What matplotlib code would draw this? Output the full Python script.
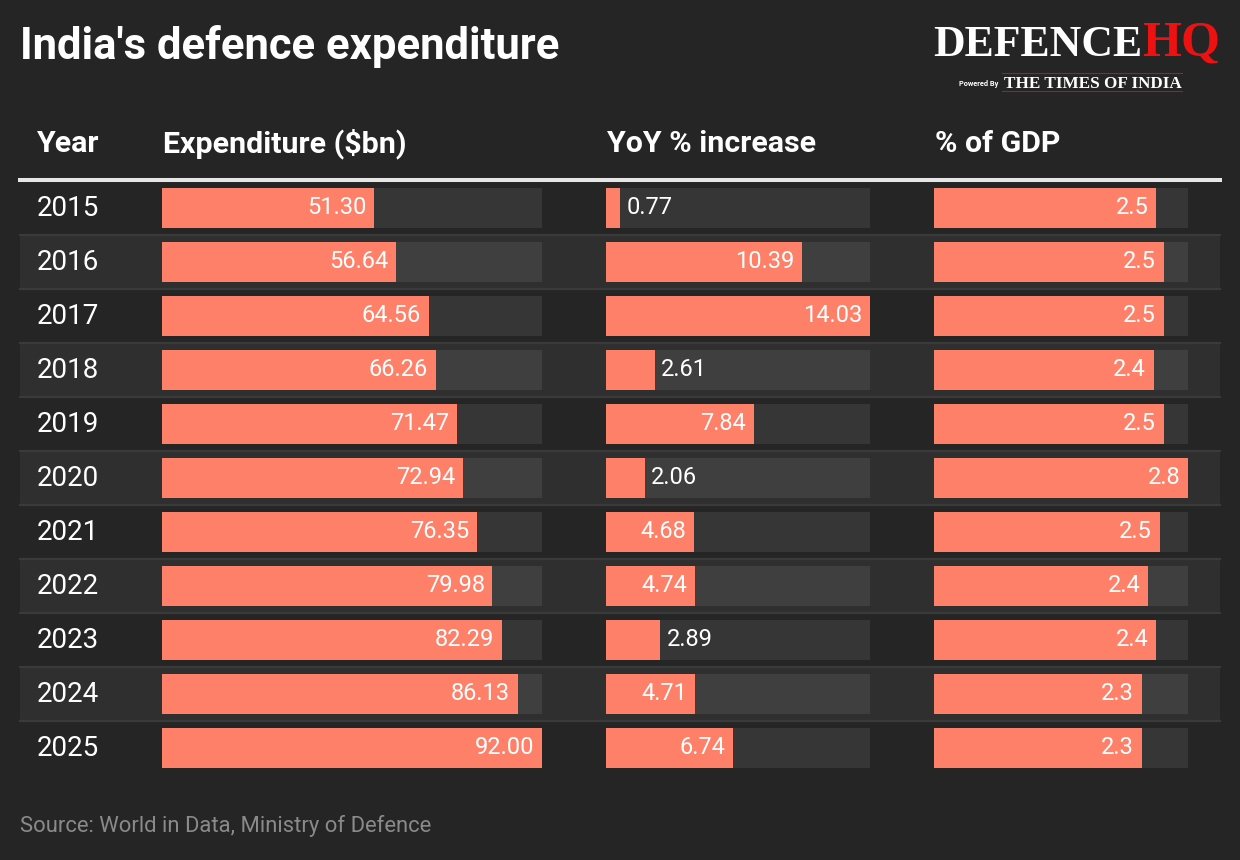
import matplotlib
matplotlib.use("Agg")
from matplotlib import pyplot as plt

years = [2015, 2016, 2017, 2018, 2019, 2020, 2021, 2022, 2023, 2024, 2025]
expenditure = [51.30, 56.64, 64.56, 66.26, 71.47, 72.94, 76.35, 79.98, 82.29, 86.13, 92.00]
yoy_increase = [0.77, 10.39, 14.03, 2.61, 7.84, 2.06, 4.68, 4.74, 2.89, 4.71, 6.74]
gdp_share = [2.45, 2.53, 2.53, 2.42, 2.53, 2.80, 2.49, 2.36, 2.45, 2.29, 2.29]
gdp_labels = ["2.5", "2.5", "2.5", "2.4", "2.5", "2.8", "2.5", "2.4", "2.4", "2.3", "2.3"]
headers = ["Year", "Expenditure ($bn)", "YoY % increase", "% of GDP"]

BG = "#252525"
BAND = "#2f2f2f"
SEP = "#3a3a3a"
BAR = "#fe8068"
W, H = 1240, 860
plt.rcParams["font.family"] = ["Roboto", "DejaVu Sans"]

fig = plt.figure(figsize=(W / 100, H / 100), dpi=100, facecolor=BG)
bg = fig.add_axes([0, 0, 1, 1])
bg.set_xlim(0, W)
bg.set_ylim(H, 0)
bg.axis("off")

row_top, row_h = 181, 54
n = len(years)

# alternating bands + separators
for i in range(n):
    y0 = row_top + i * row_h
    if i % 2 == 1:
        bg.fill_between([20, 1220], y0, y0 + row_h, color=BAND, lw=0, zorder=0)
    if i > 0:
        bg.plot([20, 1220], [y0, y0], color=SEP, lw=1.6, zorder=1)
bg.plot([20, 1220], [180, 180], color="#e6e6e6", lw=2.9, zorder=2)

# title, headers, years, source
bg.text(20, 46, "India's defence expenditure", color="white", fontsize=31.4,
        fontweight="bold", va="center", ha="left")
for x, h in zip([37, 163, 607, 935], headers):
    bg.text(x, 143.5, h, color="white", fontsize=21.9, fontweight="bold", va="center", ha="left")
for i, yr in enumerate(years):
    bg.text(37, row_top + i * row_h + row_h / 2 + 1, str(yr), color="white",
            fontsize=20, va="center", ha="left")
bg.text(20, 826, "Source: World in Data, Ministry of Defence", color="#8a8a8a",
        fontsize=15.8, va="center", ha="left")

# logo
serif = ["Liberation Serif", "DejaVu Serif"]
bg.text(933, 56, "DEFENCE", color="white", fontsize=31.5, fontweight="bold",
        family=serif, va="baseline", ha="left")
bg.text(1142, 56, "HQ", color="#ee1111", fontsize=36, fontweight="bold",
        family=serif, va="baseline", ha="left")
bg.plot([1002, 1182], [73, 73], color="#a02020", lw=0.8)
bg.plot([1002, 1182], [91, 91], color="#a02020", lw=0.8)
bg.text(959, 84, "Powered By", color="white", fontsize=5.3, fontweight="bold",
        va="center", ha="left")
bg.text(1004, 88.5, "THE TIMES OF INDIA", color="white", fontsize=12.3, fontweight="bold",
        family=serif, va="baseline", ha="left")

# bar columns
columns = [
    (162, 380, expenditure, [f"{v:.2f}" for v in expenditure]),
    (606, 264, yoy_increase, [f"{v:.2f}" for v in yoy_increase]),
    (934, 254, gdp_share, gdp_labels),
]
for left, width, vals, labels in columns:
    vmax = max(vals)
    ax = fig.add_axes([left / W, 1 - (row_top + n * row_h) / H, width / W, n * row_h / H])
    ax.set_xlim(0, vmax)
    ax.set_ylim(n - 0.5, -0.5)
    ax.axis("off")
    ax.patch.set_alpha(0)
    ypos = list(range(n))
    ax.barh(ypos, [vmax] * n, height=0.74, color="white", alpha=0.08, lw=0)
    ax.barh(ypos, vals, height=0.74, color=BAR, lw=0)
    for i, (v, lab) in enumerate(zip(vals, labels)):
        px = v / vmax * width
        if px > 70:
            ax.annotate(lab, (v, i), xytext=(-5.5, 0), textcoords="offset points",
                        ha="right", va="center", color="white", fontsize=17)
        else:
            ax.annotate(lab, (v, i), xytext=(4.5, 0), textcoords="offset points",
                        ha="left", va="center", color="white", fontsize=17)

fig.savefig("out.png", dpi=100, facecolor=BG)
